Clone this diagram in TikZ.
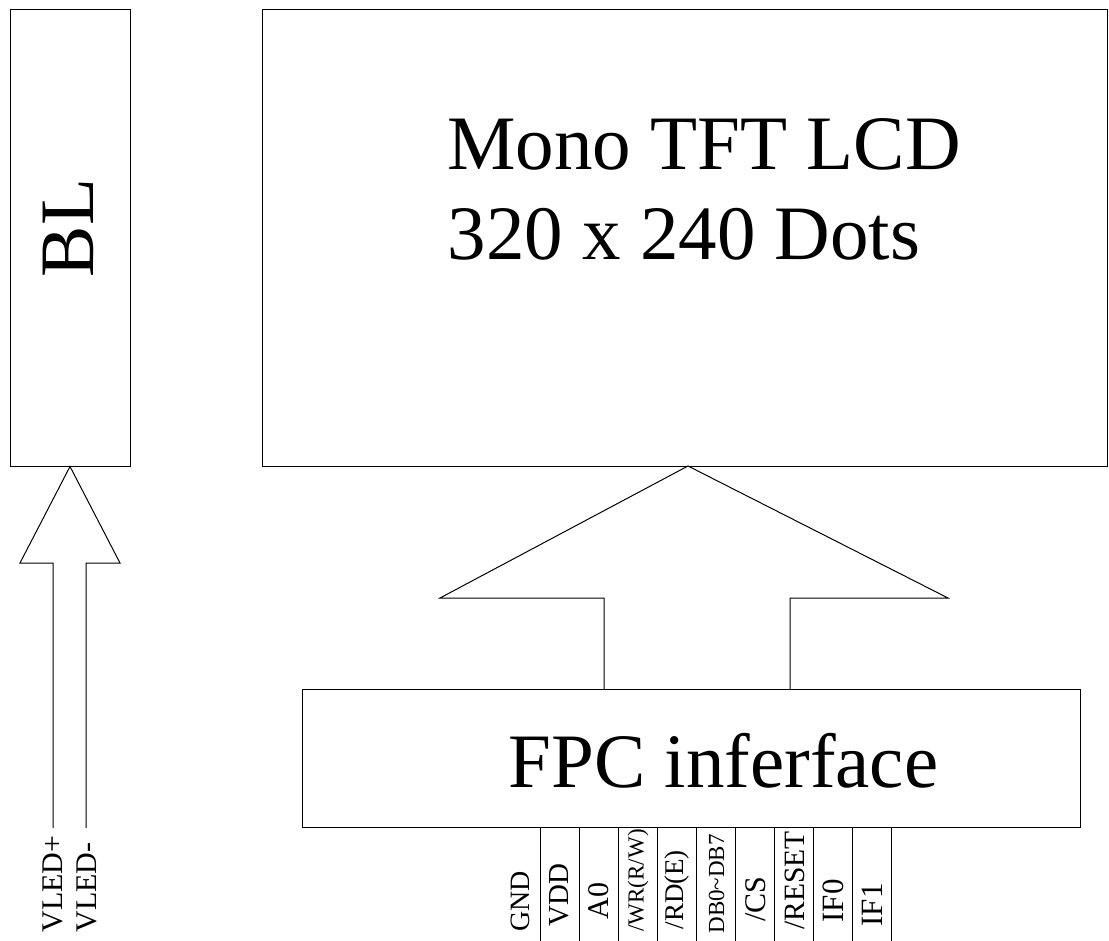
\documentclass[tikz,border=0pt]{standalone}
\usepackage{fontspec}
\setmainfont{Liberation Serif}
\begin{document}
\begin{tikzpicture}[x=1pt,y=-1pt,line width=1pt,
    box/.style={draw,shape=rectangle,inner sep=0pt},
    big/.style={font=\fontsize{77}{90}\selectfont,inner sep=0pt},
    pin/.style={rotate=90,anchor=west,inner sep=0pt}]

      \useasboundingbox (0,0) rectangle (1109,941);

      % blocks
      \path (70,238) node[box,minimum width=120pt,minimum height=456pt] (bl) {};
      \path (684.5,238) node[box,minimum width=845pt,minimum height=456pt] (lcd) {};
      \path (691,758) node[box,minimum width=778pt,minimum height=138pt] (fpc) {};

      \path (68,228) node[big,rotate=90] (bltext) {BL};
      \path (447,170) node[big,anchor=base west] (lcdname) {Mono TFT LCD};
      \path (447,260) node[big,anchor=base west] (lcddots) {320 x 240 Dots};
      \path (508,787) node[big,anchor=base west] (fpcname) {FPC inferface};

      % block arrows
      \draw (604,689) -- (604,598) -- (440,598) -- (688,466) -- (948,598) -- (790,598) -- (790,689);
      \draw (53,828) -- (53,563) -- (20,563) -- (bl.south) -- (120,563) -- (86,563) -- (86,828);

      \path (53,933) node[pin,font=\fontsize{30}{30}\selectfont] (vledp) {VLED+};
      \path (87,933) node[pin,font=\fontsize{30}{30}\selectfont] (vledm) {VLED-};

      % pins
      \foreach \i in {0,...,9}
        \draw ({540+39.1*\i},827) -- ({540+39.1*\i},941);

      \path (520,932) node[pin,font=\fontsize{28}{28}\selectfont] (p1) {GND};
      \path (559.5,927) node[pin,font=\fontsize{29}{29}\selectfont] (p2) {VDD};
      \path (598.5,920) node[pin,font=\fontsize{30}{30}\selectfont] (p3) {A0};
      \path (638,932) node[pin,font=\fontsize{23}{23}\selectfont] (p4) {/WR(R/W)};
      \path (677.5,930) node[pin,font=\fontsize{27}{27}\selectfont] (p5) {/RD(E)};
      \path (716.5,934) node[pin,font=\fontsize{23}{23}\selectfont] (p6) {DB0\textasciitilde DB7};
      \path (755.5,922) node[pin,font=\fontsize{30}{30}\selectfont] (p7) {/CS};
      \path (794.5,930) node[pin,font=\fontsize{29.5}{29.5}\selectfont] (p8) {/RESET};
      \path (833.5,923) node[pin,font=\fontsize{31}{31}\selectfont] (p9) {IF0};
      \path (872.5,927) node[pin,font=\fontsize{31}{31}\selectfont] (p10) {IF1};
   \end{tikzpicture}
\end{document}
